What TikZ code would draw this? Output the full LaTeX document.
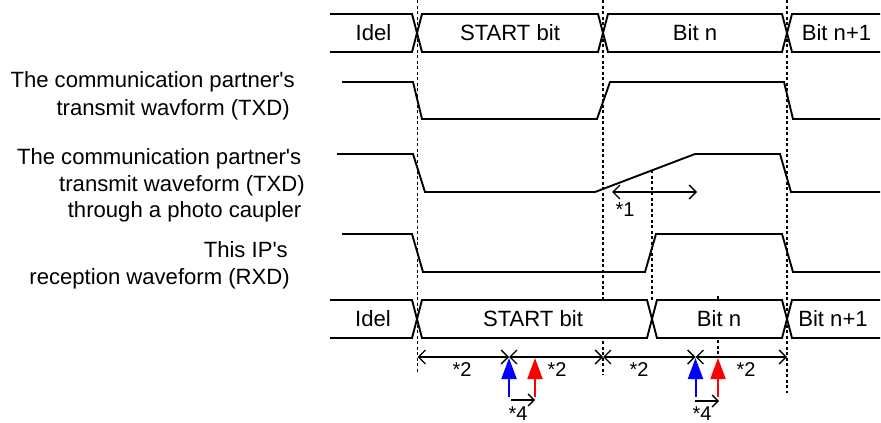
\documentclass[tikz,border=0pt]{standalone}
\usepackage{fontspec}
\newfontfamily\arialish{Liberation Sans}
\usetikzlibrary{arrows.meta}
\begin{document}
\begin{tikzpicture}[x=1pt,y=-1pt,
  wave/.style={line width=1.9pt},
  bus/.style={line width=1.9pt, fill=white},
  gridline/.style={line width=1.9pt, dash pattern=on 3pt off 2.5pt},
  dim/.style={line width=1.3pt, {Straight Barb[length=7pt,width=14pt]}-{Straight Barb[length=7pt,width=14pt]}},
  smallarr/.style={line width=1.3pt, -{Straight Barb[length=6pt,width=12pt]}},
  lbl/.style={font=\arialish\fontsize{22.1}{27}\selectfont, inner sep=0pt},
  star/.style={font=\arialish\fontsize{20}{24}\selectfont, inner sep=0pt},
  sample/.style={line width=2pt, -{Triangle[length=21pt,width=15pt]}}]
\useasboundingbox (0,0) rectangle (881,423);

% dotted reference lines
\draw[gridline] (417.5,0) -- (417.5,372);
\draw[gridline] (603,0) -- (603,375);
\draw[gridline] (787,0) -- (787,393);
\draw[gridline] (652,170) -- (652,300);
\draw[gridline] (718,296) -- (718,358);

% top bus
\filldraw[bus] (330,14) -- (412,14) -- (417,33) -- (412,52) -- (330,52);
\filldraw[bus] (422,14) -- (598,14) -- (603,33) -- (598,52) -- (422,52) -- (417,33) -- cycle;
\filldraw[bus] (608,14) -- (782,14) -- (787,33) -- (782,52) -- (608,52) -- (603,33) -- cycle;
\filldraw[bus] (880,14) -- (792,14) -- (787,33) -- (792,52) -- (880,52);
\node[lbl] (t1) at (373.5,33) {Idel};
\node[lbl] (t2) at (510,33) {START bit};
\node[lbl] (t3) at (695,33) {Bit n};
\node[lbl] (t4) at (836.5,33) {Bit n+1};

% bottom bus
\filldraw[bus] (330,300) -- (412,300) -- (417,319) -- (412,338) -- (330,338);
\filldraw[bus] (422,300) -- (647,300) -- (652,319) -- (647,338) -- (422,338) -- (417,319) -- cycle;
\filldraw[bus] (657,300) -- (782,300) -- (787,319) -- (782,338) -- (657,338) -- (652,319) -- cycle;
\filldraw[bus] (880,300) -- (792,300) -- (787,319) -- (792,338) -- (880,338);
\node[lbl] (b1) at (373,319) {Idel};
\node[lbl] (b2) at (533,319) {START bit};
\node[lbl] (b3) at (719,319) {Bit n};
\node[lbl] (b4) at (833,319) {Bit n+1};

% waveforms
\draw[wave] (342,82) -- (413,82) -- (422,119) -- (597,119) -- (610,82) -- (784,82) -- (793,119) -- (880,119);
\draw[wave] (337,154) -- (413,154) -- (425,192) -- (595,192) -- (695,154) -- (780,154) -- (791,192) -- (880,192);
\draw[wave] (342,234) -- (412,234) -- (423,272) -- (645,272) -- (656,234) -- (782,234) -- (793,272) -- (880,272);

% *1
\draw[dim] (612,192) -- (697,192);
\node[star] (s1) at (625,210) {*1};

% dimension line
\draw[dim] (417.5,357) -- (509,357);
\draw[dim] (509,357) -- (603,357);
\draw[dim] (603,357) -- (695.5,357);
\draw[dim] (695.5,357) -- (787,357);
\node[star,anchor=base] (d1) at (462,376) {*2};
\node[star,anchor=base] (d2) at (557,376) {*2};
\node[star,anchor=base] (d3) at (639,376) {*2};
\node[star,anchor=base] (d4) at (746,376) {*2};

% sampling arrows
\draw[sample, blue] (509,397) -- (509,358);
\draw[sample, red] (535,397) -- (535,358);
\draw[sample, blue] (695.5,397) -- (695.5,358);
\draw[sample, red] (718,397) -- (718,358);

% *4
\draw[smallarr] (511,400) -- (535,400);
\draw[smallarr] (695,401) -- (719,401);
\node[star,anchor=base] (f1) at (518,420) {*4};
\node[star,anchor=base] (f2) at (702,420) {*4};

% left labels
\node[lbl,anchor=base east] (l1a) at (295,87) {The communication partner's};
\node[lbl,anchor=base east] (l1b) at (290,115) {transmit wavform (TXD)};
\node[lbl,anchor=base east] (l2a) at (301.5,164) {The communication partner's};
\node[lbl,anchor=base east] (l2b) at (305,191) {transmit waveform (TXD)};
\node[lbl,anchor=base east] (l2c) at (301.5,217.5) {through a photo caupler};
\node[lbl,anchor=base east] (l3a) at (288,257.5) {This IP's};
\node[lbl,anchor=base east] (l3b) at (290,284) {reception waveform (RXD)};
\end{tikzpicture}
\end{document}
